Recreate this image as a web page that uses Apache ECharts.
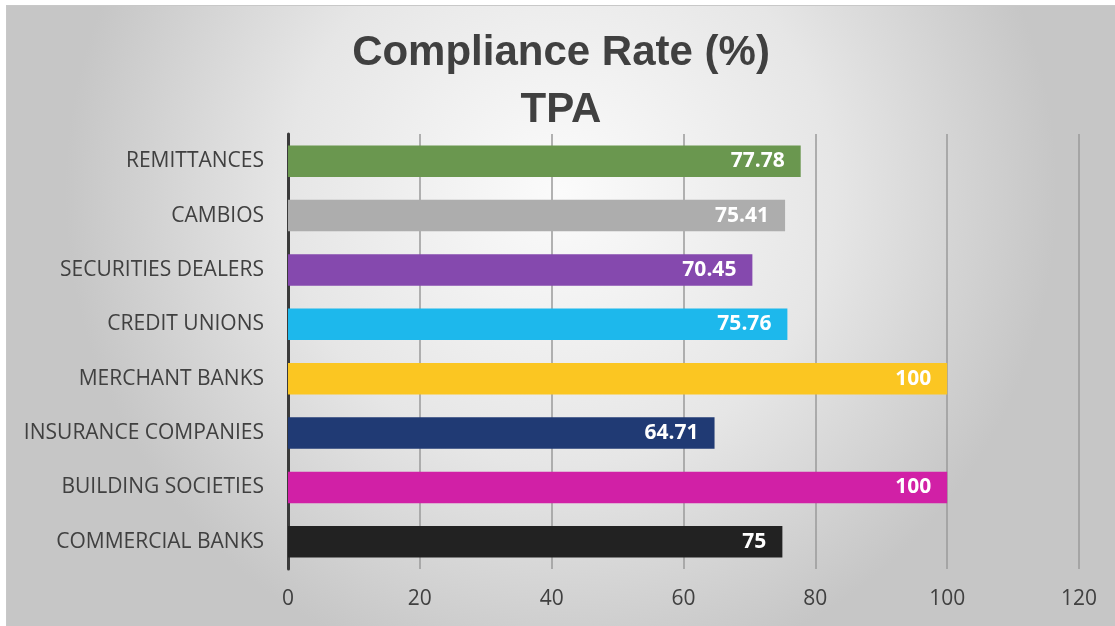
<!DOCTYPE html>
<html>
<head>
<meta charset="utf-8">
<script src="https://cdn.jsdelivr.net/npm/echarts@6/dist/echarts.min.js"></script>
<style>
  html, body { margin: 0; padding: 0; background: #fff; }
  #chart { position: absolute; left: 6px; top: 5px; width: 1109px; height: 621px; border-top: 1px solid #c8c8c8; border-left: 1px solid #c8c8c8; box-sizing: border-box; }
</style>
</head>
<body>
<div id="chart"></div>
<script>
// bottom to top, as on the chart
const categories = ['COMMERCIAL BANKS', 'BUILDING SOCIETIES', 'INSURANCE COMPANIES', 'MERCHANT BANKS',
  'CREDIT UNIONS', 'SECURITIES DEALERS', 'CAMBIOS', 'REMITTANCES']
const rates = [75, 100, 64.71, 100, 75.76, 70.45, 75.41, 77.78]
const barColors = ['#222222', '#d120a6', '#203a74', '#fbc622', '#1db8ec', '#8549ae', '#adadad', '#6a974f']
const xTicks = [0, 20, 40, 60, 80, 100, 120]

const chart = echarts.init(document.getElementById('chart'))

chart.setOption({
  backgroundColor: {
    type: 'radial', x: 0.5, y: 0.3, r: 0.8,
    colorStops: [
      { offset: 0, color: '#fbfbfb' },
      { offset: 0.55, color: '#e6e6e6' },
      { offset: 1, color: '#c6c6c6' }
    ]
  },
  title: {
    text: 'Compliance Rate (%)\nTPA',
    left: 'center',
    top: 14,
    textStyle: {
      fontFamily: 'Liberation Sans, sans-serif',
      fontSize: 42,
      fontWeight: 'bold',
      color: '#404040',
      lineHeight: 57
    }
  },
  grid: { left: 281, right: 36, top: 128, bottom: 57 },
  xAxis: {
    type: 'value',
    min: xTicks[0],
    max: xTicks[xTicks.length - 1],
    interval: 20,
    axisLine: { show: false },
    axisTick: { show: false },
    axisLabel: { color: '#404040', fontSize: 21, margin: 20, fontFamily: 'Open Sans, sans-serif' },
    splitLine: { lineStyle: { color: '#9a9a9a', width: 1.5 } }
  },
  yAxis: {
    type: 'category',
    data: categories,
    axisLine: { show: true, lineStyle: { color: '#3a3a3a', width: 3 } },
    axisTick: { show: false },
    axisLabel: { color: '#404040', fontSize: 21, margin: 24, fontFamily: 'Open Sans, sans-serif' }
  },
  series: [{
    type: 'bar',
    barWidth: '58%',
    data: rates.map((v, i) => ({ value: v, itemStyle: { color: barColors[i] } })),
    label: {
      show: true,
      position: 'insideRight',
      distance: 16,
      color: '#ffffff',
      fontSize: 21,
      fontWeight: 'bold',
      fontFamily: 'Open Sans, sans-serif'
    }
  }]
})
</script>
</body>
</html>
